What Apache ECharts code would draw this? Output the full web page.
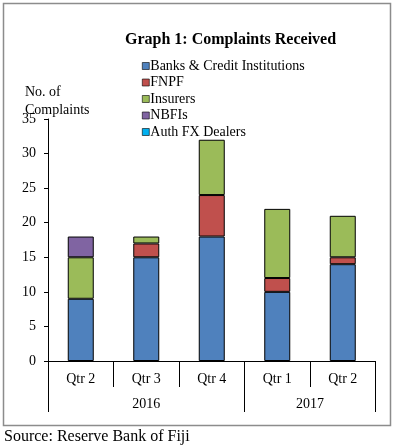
<!DOCTYPE html>
<html>
<head>
<meta charset="utf-8">
<script src="https://cdn.jsdelivr.net/npm/echarts@6/dist/echarts.min.js"></script>
<style>
html,body{margin:0;padding:0;background:#fff;}
#chart{width:395px;height:448px;}
</style>
</head>
<body>
<div id="chart"></div>
<script>
const quarters = ['Qtr 2', 'Qtr 3', 'Qtr 4', 'Qtr 1', 'Qtr 2'];
const years = ['2016', '2017'];
const yearSpans = [3, 2];
const seriesNames = ['Banks & Credit Institutions', 'FNPF', 'Insurers', 'NBFIs', 'Auth FX Dealers'];
const banks = [9, 15, 18, 10, 14];
const fnpf = [0, 2, 6, 2, 1];
const insurers = [6, 1, 8, 10, 6];
const nbfis = [3, 0, 0, 0, 0];
const authFx = [0, 0, 0, 0, 0];
const colors = ['#4F81BD', '#C0504D', '#9BBB59', '#8064A2', '#00B0F0'];
const yTicks = [0, 5, 10, 15, 20, 25, 30, 35];

const FONT = 'Liberation Serif';
const values = [banks, fnpf, insurers, nbfis, authFx];

// year group boundaries and centres in category units
const yearBounds = [0];
yearSpans.forEach(s => yearBounds.push(yearBounds[yearBounds.length - 1] + s));
const yearCentres = years.map((y, i) => (yearBounds[i] + yearBounds[i + 1]) / 2);

const chart = echarts.init(document.getElementById('chart'), null, {renderer: 'canvas'});
chart.setOption({
  animation: false,
  backgroundColor: '#fff',
  color: colors,
  title: [
    {text: 'Graph 1: Complaints Received', left: 125, top: 32, padding: 0,
     textStyle: {fontFamily: FONT, fontSize: 16, fontWeight: 'bold', color: '#000'}},
    {text: 'No. of\nComplaints', left: 25, top: 84, padding: 0,
     textStyle: {fontFamily: FONT, fontSize: 14, fontWeight: 'normal', color: '#000', lineHeight: 17.5}},
    {text: 'Source: Reserve Bank of Fiji', left: 4, top: 429, padding: 0,
     textStyle: {fontFamily: FONT, fontSize: 16, fontWeight: 'normal', color: '#000'}}
  ],
  graphic: [
    {type: 'rect', shape: {x: 3.5, y: 3.5, width: 387, height: 422},
     style: {fill: 'none', stroke: '#8c8c8c', lineWidth: 1.5}, z: -1}
  ],
  legend: {
    orient: 'vertical', left: 142, top: 59, padding: 0,
    itemWidth: 7, itemHeight: 7, itemGap: 2.5,
    icon: 'rect',
    itemStyle: {borderColor: '#000', borderWidth: 0.6},
    textStyle: {fontFamily: FONT, fontSize: 14, color: '#000', padding: [0, 0, 0, -4]},
    data: seriesNames
  },
  grid: {left: 48, right: 19.5, top: 119, bottom: 87},
  xAxis: [
    {type: 'category', data: quarters, position: 'bottom',
     axisLine: {show: true, lineStyle: {color: '#000', width: 1}},
     axisTick: {show: true, length: 26, lineStyle: {color: '#000'}},
     axisLabel: {fontFamily: FONT, fontSize: 14, color: '#000', margin: 11}},
    {type: 'value', min: 0, max: quarters.length, position: 'bottom', offset: 26,
     axisLine: {show: false},
     splitLine: {show: false},
     axisTick: {show: true, length: 25, lineStyle: {color: '#000'}, customValues: yearBounds},
     axisLabel: {fontFamily: FONT, fontSize: 14, color: '#000', margin: 10,
                 customValues: yearCentres,
                 formatter: v => { const i = yearCentres.indexOf(v); return i >= 0 ? years[i] : ''; }}}
  ],
  yAxis: {
    type: 'value', min: 0, max: 35, interval: 5,
    axisLine: {show: true, lineStyle: {color: '#000'}},
    axisTick: {show: true, length: 4, lineStyle: {color: '#000'}},
    splitLine: {show: false},
    axisLabel: {fontFamily: FONT, fontSize: 14, color: '#000', margin: 12,
                formatter: v => yTicks.includes(v) ? String(v) : ''}
  },
  series: seriesNames.map((name, i) => ({
    name, type: 'bar', stack: 'total', xAxisIndex: 0, barWidth: 26,
    data: values[i].map(v => v === 0 ? '-' : v),
    itemStyle: {color: colors[i], borderColor: '#000', borderWidth: 1}
  }))
});
</script>
</body>
</html>
